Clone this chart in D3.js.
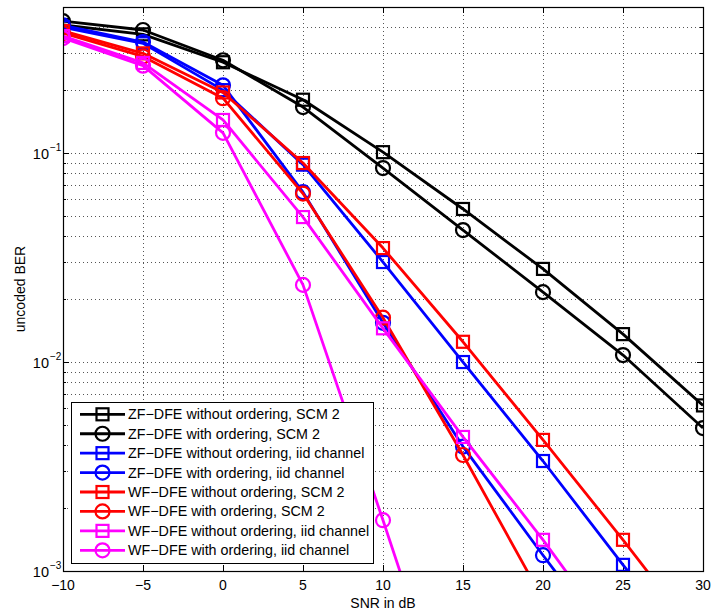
<!DOCTYPE html>
<html>
<head>
<meta charset="utf-8">
<script src="https://cdn.jsdelivr.net/npm/d3@7/dist/d3.min.js"></script>
<style>
  body { margin: 0; background: #fff; }
  svg { font-family: "Liberation Sans", Arial, sans-serif; }
</style>
</head>
<body>
<svg id="chart" width="714" height="611"></svg>
<script>
// SNR points (dB)
const snrDb = [-10, -5, 0, 5, 10, 15, 20, 25, 30];

// uncoded BER per curve
const zfNoOrdScm = [0.41, 0.37, 0.272, 0.18, 0.101, 0.054, 0.0279, 0.0136, 0.0062];
const zfOrdScm = [0.428, 0.388, 0.278, 0.166, 0.0848, 0.0428, 0.0216, 0.0108, 0.00483];
const zfNoOrdIid = [0.40, 0.335, 0.2, 0.088, 0.0301, 0.01, 0.00336, 0.00107, 0.00035];
const zfOrdIid = [0.408, 0.34, 0.211, 0.065, 0.0154, 0.00394, 0.00119, 0.00037];
const wfNoOrdScm = [0.384, 0.30, 0.195, 0.0896, 0.0351, 0.0125, 0.00424, 0.00141, 0.00045];
const wfOrdScm = [0.375, 0.29, 0.183, 0.064, 0.0163, 0.00359, 0.00073];
const wfNoOrdIid = [0.363, 0.27, 0.144, 0.0494, 0.0145, 0.00438, 0.00141, 0.00042];
const wfOrdIid = [0.355, 0.262, 0.125, 0.0234, 0.00175, 0.000123];

const seriesNames = [
  "ZF\u2212DFE without ordering, SCM 2",
  "ZF\u2212DFE with ordering, SCM 2",
  "ZF\u2212DFE without ordering, iid channel",
  "ZF\u2212DFE with ordering, iid channel",
  "WF\u2212DFE without ordering, SCM 2",
  "WF\u2212DFE with ordering, SCM 2",
  "WF\u2212DFE without ordering, iid channel",
  "WF\u2212DFE with ordering, iid channel",
];
const seriesValues = [zfNoOrdScm, zfOrdScm, zfNoOrdIid, zfOrdIid, wfNoOrdScm, wfOrdScm, wfNoOrdIid, wfOrdIid];
const seriesColors = ["#000000", "#000000", "#0000ff", "#0000ff", "#ff0000", "#ff0000", "#ff00ff", "#ff00ff"];
const seriesMarkers = ["square", "circle", "square", "circle", "square", "circle", "square", "circle"];

const xTicks = [-10, -5, 0, 5, 10, 15, 20, 25, 30];
const yDecades = [1e-3, 1e-2, 1e-1];

const PLOT = { left: 63, right: 703, top: 7, bottom: 571 };

const svg = d3.select("#chart");

const xScale = d3.scaleLinear().domain([-10, 30]).range([PLOT.left, PLOT.right]);
const yScale = d3.scaleLog().domain([1e-3, 0.5]).range([PLOT.bottom, PLOT.top]);

svg.append("defs").append("clipPath").attr("id", "plotclip")
  .append("rect")
  .attr("x", PLOT.left).attr("y", PLOT.top)
  .attr("width", PLOT.right - PLOT.left).attr("height", PLOT.bottom - PLOT.top);

// minor + major y values for grid
const yGridVals = [];
[1e-3, 1e-2, 1e-1].forEach(function (d) {
  for (let k = 1; k <= 9; k++) {
    const v = d * k;
    if (v <= 0.5 + 1e-9) yGridVals.push(v);
  }
});

const grid = svg.append("g").attr("class", "grid");
grid.selectAll("line.gy")
  .data(yGridVals.filter((v) => v > 1e-3 && v < 0.5))
  .enter().append("line")
  .attr("class", "gy")
  .attr("x1", PLOT.left).attr("x2", PLOT.right)
  .attr("y1", (d) => Math.round(yScale(d)) + 0.5)
  .attr("y2", (d) => Math.round(yScale(d)) + 0.5)
  .attr("stroke", "#555").attr("stroke-width", 1).attr("stroke-dasharray", "1,3");
grid.selectAll("line.gx")
  .data(xTicks.filter((v) => v > -10 && v < 30))
  .enter().append("line")
  .attr("class", "gx")
  .attr("x1", (d) => Math.round(xScale(d)) + 0.5)
  .attr("x2", (d) => Math.round(xScale(d)) + 0.5)
  .attr("y1", PLOT.top).attr("y2", PLOT.bottom)
  .attr("stroke", "#555").attr("stroke-width", 1).attr("stroke-dasharray", "1,3");

// ticks (inside, on all four sides)
const ticks = svg.append("g").attr("stroke", "#000").attr("stroke-width", 1);
xTicks.forEach(function (d) {
  const x = Math.round(xScale(d)) + 0.5;
  ticks.append("line").attr("x1", x).attr("x2", x).attr("y1", PLOT.bottom).attr("y2", PLOT.bottom - 6);
  ticks.append("line").attr("x1", x).attr("x2", x).attr("y1", PLOT.top).attr("y2", PLOT.top + 6);
});
yGridVals.forEach(function (d) {
  const y = Math.round(yScale(d)) + 0.5;
  const len = yDecades.indexOf(d) >= 0 ? 6 : 3;
  ticks.append("line").attr("x1", PLOT.left).attr("x2", PLOT.left + len).attr("y1", y).attr("y2", y);
  ticks.append("line").attr("x1", PLOT.right).attr("x2", PLOT.right - len).attr("y1", y).attr("y2", y);
});

// curves
const line = d3.line()
  .x((d) => xScale(d.x))
  .y((d) => yScale(d.y));

const curves = svg.append("g").attr("clip-path", "url(#plotclip)");

function drawMarker(g, type, color, cx, cy) {
  if (type === "square") {
    g.append("rect")
      .attr("x", cx - 6).attr("y", cy - 6).attr("width", 12).attr("height", 12)
      .attr("fill", "none").attr("stroke", color).attr("stroke-width", 2.2);
  } else {
    g.append("circle")
      .attr("cx", cx).attr("cy", cy).attr("r", 7)
      .attr("fill", "none").attr("stroke", color).attr("stroke-width", 2.2);
  }
}

seriesValues.forEach(function (vals, i) {
  const pts = vals.map((v, j) => ({ x: snrDb[j], y: v }));
  const g = curves.append("g");
  g.append("path")
    .datum(pts)
    .attr("d", line)
    .attr("fill", "none")
    .attr("stroke", seriesColors[i])
    .attr("stroke-width", 2.8)
    .attr("stroke-linejoin", "round");
  pts.forEach(function (p) {
    drawMarker(g, seriesMarkers[i], seriesColors[i], xScale(p.x), yScale(p.y));
  });
});

// axes box
svg.append("rect")
  .attr("x", PLOT.left + 0.5).attr("y", PLOT.top + 0.5)
  .attr("width", PLOT.right - PLOT.left).attr("height", PLOT.bottom - PLOT.top)
  .attr("fill", "none").attr("stroke", "#000").attr("stroke-width", 1.2);

// x tick labels
svg.append("g").selectAll("text")
  .data(xTicks)
  .enter().append("text")
  .attr("x", (d) => xScale(d))
  .attr("y", 590)
  .attr("text-anchor", "middle")
  .attr("font-size", 14)
  .text((d) => (d < 0 ? "\u2212" + Math.abs(d) : d));

// y tick labels (10^k)
const yLab = svg.append("g");
yDecades.forEach(function (d) {
  const y = yScale(d);
  const k = Math.round(Math.log10(d));
  yLab.append("text")
    .attr("x", 49).attr("y", y + 6)
    .attr("text-anchor", "end").attr("font-size", 14.5)
    .text("10");
  yLab.append("text")
    .attr("x", 50).attr("y", y - 2)
    .attr("text-anchor", "start").attr("font-size", 10)
    .text("\u2212" + Math.abs(k));
});

// axis titles
svg.append("text")
  .attr("x", (PLOT.left + PLOT.right) / 2).attr("y", 608)
  .attr("text-anchor", "middle").attr("font-size", 14)
  .text("SNR in dB");
svg.append("text")
  .attr("transform", "translate(25," + (PLOT.top + PLOT.bottom) / 2 + ") rotate(-90)")
  .attr("text-anchor", "middle").attr("font-size", 14)
  .text("uncoded BER");

// legend
const legend = svg.append("g");
legend.append("rect")
  .attr("x", 71.5).attr("y", 402.5).attr("width", 302).attr("height", 161)
  .attr("fill", "#fff").attr("stroke", "#000").attr("stroke-width", 1);
seriesNames.forEach(function (name, i) {
  const y = 414.3 + i * 19.43;
  const g = legend.append("g");
  g.append("line")
    .attr("x1", 80).attr("x2", 125).attr("y1", y).attr("y2", y)
    .attr("stroke", seriesColors[i]).attr("stroke-width", 2.8);
  drawMarker(g, seriesMarkers[i], seriesColors[i], 102.5, y);
  g.append("text")
    .attr("x", 128).attr("y", y + 5)
    .attr("font-size", 14.3)
    .text(name);
});
</script>
</body>
</html>
